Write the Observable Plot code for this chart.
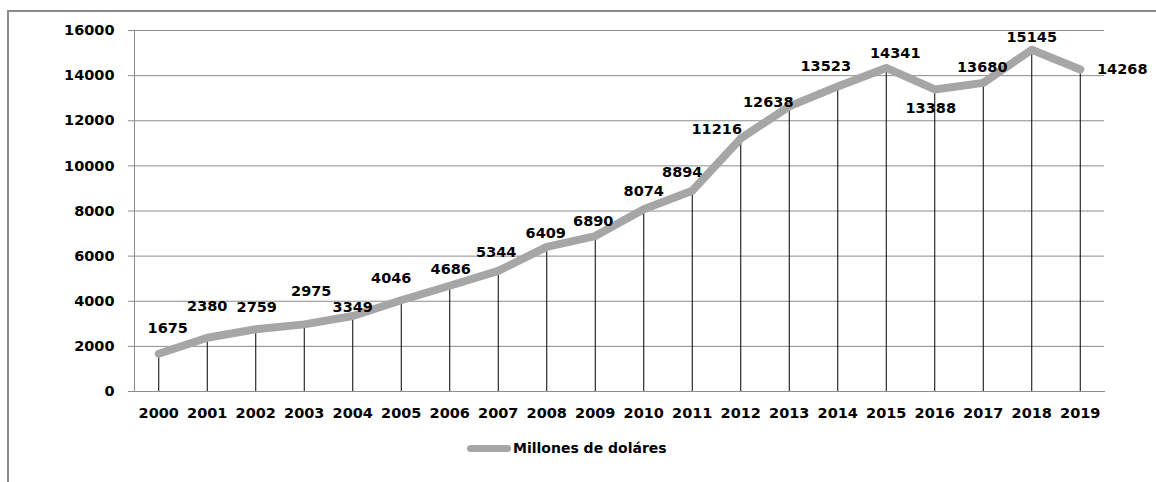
<!DOCTYPE html>
<html>
<head>
<meta charset="utf-8">
<script src="https://cdn.jsdelivr.net/npm/d3@7"></script>
<script src="https://cdn.jsdelivr.net/npm/@observablehq/plot@0.6"></script>
<style>
  html, body { margin: 0; padding: 0; background: #fff; }
  #wrap { position: relative; width: 1156px; height: 482px; overflow: hidden; font-family: "DejaVu Sans", Verdana, sans-serif; }
  #frameTop { position: absolute; left: 8px; top: 10px; width: 1148px; height: 0; border-top: 2px solid #8a8a8a; }
  #frameLeft { position: absolute; left: 7px; top: 10px; width: 0; height: 472px; border-left: 2px solid #8a8a8a; }
  #chart { position: absolute; left: 0; top: 0; }
  #legend { position: absolute; left: 467px; top: 440px; display: flex; align-items: center; font-weight: bold; font-size: 14px; color: #000; }
  #legend .sw { width: 44px; height: 7px; background: #a6a6a6; border-radius: 4px; margin-right: 2px; }
</style>
</head>
<body>
<div id="wrap">
  <div id="frameTop"></div>
  <div id="frameLeft"></div>
  <div id="chart"></div>
  <div id="legend"><span class="sw"></span><span id="legendText"></span></div>
</div>
<script>
const years = ["2000","2001","2002","2003","2004","2005","2006","2007","2008","2009","2010","2011","2012","2013","2014","2015","2016","2017","2018","2019"];
const values = [1675,2380,2759,2975,3349,4046,4686,5344,6409,6890,8074,8894,11216,12638,13523,14341,13388,13680,15145,14268];
const yTicks = [0,2000,4000,6000,8000,10000,12000,14000,16000];
const seriesName = "Millones de doláres";

// label placement offsets (px) relative to each point, as in the reference
const labelDx = [9,0,1,7,0,-10,1,-2,-1,-2,0,-10,-24,-21,-12,9,-4,-1,0,42];
const labelDy = [-25,-31,-22,-33,-9,-22,-16,-19,-14,-15,-18,-18,-9,-4,-20,-15,19,-15,-12,0];

document.getElementById("legendText").textContent = seriesName;

const data = years.map((y, i) => ({year: y, value: values[i], i}));
const font = "DejaVu Sans, Verdana, sans-serif";

const labelMarks = data.map((d, i) => Plot.text([d], {
  x: "year", y: "value", text: dd => String(dd.value),
  dx: labelDx[i], dy: labelDy[i],
  fontWeight: "bold", fontSize: 14.5, fill: "#000", textAnchor: "middle", lineAnchor: "middle"
}));

const chart = Plot.plot({
  width: 1156,
  height: 430,
  marginLeft: 134,
  marginRight: 52,
  marginTop: 30,
  marginBottom: 39,
  style: {fontFamily: font, background: "transparent", overflow: "visible"},
  x: {type: "point", domain: years, padding: 0.5, align: 0.5, round: false},
  y: {domain: [0, 16000]},
  marks: [
    Plot.gridY(yTicks, {stroke: "#8c8c8c", strokeOpacity: 1, strokeWidth: 1}),
    Plot.axisY({ticks: yTicks, tickSize: 6, tickPadding: 14, stroke: "#8c8c8c", fontWeight: "bold", fontSize: 14.5, fill: "#000", label: null, tickFormat: d => String(d)}),
    Plot.axisX({tickSize: 0, tickPadding: 16, fontWeight: "bold", fontSize: 14.5, fill: "#000", label: null}),
    Plot.frame({anchor: "left", stroke: "#8c8c8c"}),
    Plot.frame({anchor: "bottom", stroke: "#8c8c8c"}),
    Plot.ruleX(data, {x: "year", y1: 0, y2: "value", stroke: "#000", strokeWidth: 1}),
    Plot.line(data, {x: "year", y: "value", stroke: "#a6a6a6", strokeWidth: 8, strokeLinejoin: "round", strokeLinecap: "round"}),
    ...labelMarks
  ]
});
document.getElementById("chart").appendChild(chart);
</script>
</body>
</html>
